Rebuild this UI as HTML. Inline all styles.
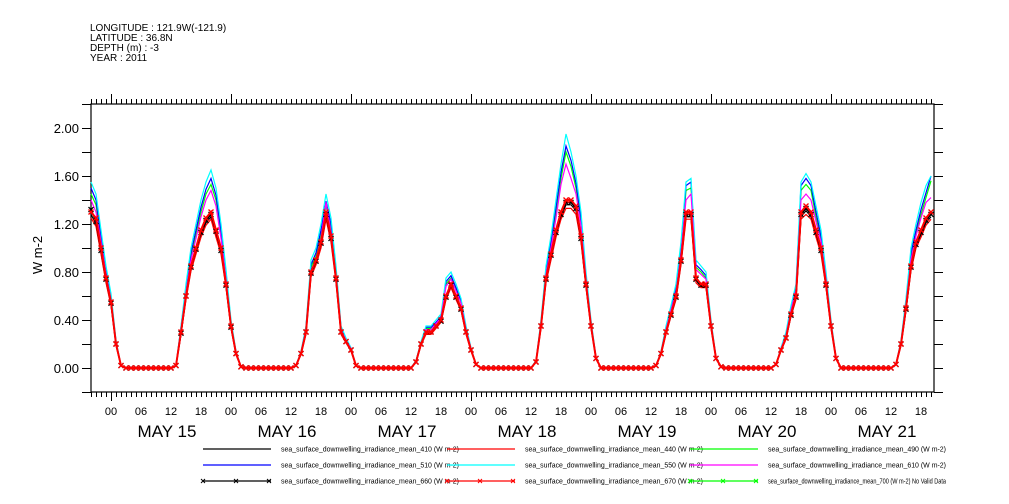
<!DOCTYPE html>
<html><head><meta charset="utf-8"><style>
html,body{margin:0;padding:0;background:#fff;}
svg{display:block;font-family:"Liberation Sans",sans-serif;}
</style></head><body>
<svg id="chart" width="1009" height="504" viewBox="0 0 1009 504" xmlns="http://www.w3.org/2000/svg">
<g font-size="10" fill="#000">
<text x="90" y="31">LONGITUDE : 121.9W(-121.9)</text>
<text x="90" y="41">LATITUDE : 36.8N</text>
<text x="90" y="51">DEPTH (m) : -3</text>
<text x="90" y="61">YEAR : 2011</text>
</g>
<text transform="translate(42,255) rotate(-90)" text-anchor="middle" font-size="13">W m-2</text>
<g id="axes"></g>
<g id="series"></g>
<g id="legend"></g>
</svg>
<script>
const startHourOffset = -4; // first point is May 14 20:00
const dayLabels = ["MAY 15","MAY 16","MAY 17","MAY 18","MAY 19","MAY 20","MAY 21"];
const hourLabels = ["00","06","12","18"];
const yTicks = [0,0.4,0.8,1.2,1.6,2.0];
const yTickLabels = ["0.00","0.40","0.80","1.20","1.60","2.00"];

const red670 = [1.30,1.25,1.00,0.75,
0.55,0.20,0.02,0,0,0,0,0,0,0,0,0,0,0.02,0.30,0.60,0.85,1.00,1.15,1.25,1.30,1.15,1.00,0.70,
0.35,0.12,0.01,0,0,0,0,0,0,0,0,0,0,0.02,0.12,0.30,0.80,0.90,1.05,1.30,1.10,0.75,0.30,0.22,
0.15,0.02,0,0,0,0,0,0,0,0,0,0,0,0.05,0.20,0.30,0.30,0.35,0.40,0.60,0.70,0.60,0.50,0.30,
0.15,0.03,0,0,0,0,0,0,0,0,0,0,0,0.05,0.35,0.75,0.95,1.15,1.30,1.40,1.40,1.35,1.10,0.70,
0.35,0.08,0,0,0,0,0,0,0,0,0,0,0,0.02,0.12,0.30,0.45,0.60,0.90,1.30,1.30,0.75,0.70,0.70,
0.35,0.08,0.01,0,0,0,0,0,0,0,0,0,0,0.03,0.15,0.25,0.45,0.60,1.30,1.35,1.30,1.15,1.00,0.70,
0.35,0.08,0,0,0,0,0,0,0,0,0,0,0,0.03,0.20,0.50,0.85,1.05,1.15,1.25,1.30];
const black660 = [1.32,1.22,0.98,0.74,
0.54,0.20,0.02,0,0,0,0,0,0,0,0,0,0,0.02,0.29,0.60,0.84,0.99,1.13,1.23,1.28,1.14,0.98,0.69,
0.34,0.12,0.01,0,0,0,0,0,0,0,0,0,0,0.02,0.12,0.30,0.79,0.89,1.04,1.28,1.08,0.74,0.30,0.22,
0.15,0.02,0,0,0,0,0,0,0,0,0,0,0,0.05,0.20,0.30,0.30,0.35,0.39,0.59,0.69,0.59,0.49,0.30,
0.15,0.03,0,0,0,0,0,0,0,0,0,0,0,0.05,0.35,0.74,0.94,1.13,1.28,1.38,1.38,1.33,1.08,0.69,
0.35,0.08,0,0,0,0,0,0,0,0,0,0,0,0.02,0.12,0.30,0.44,0.59,0.89,1.28,1.28,0.74,0.69,0.69,
0.35,0.08,0.01,0,0,0,0,0,0,0,0,0,0,0.03,0.15,0.25,0.44,0.59,1.28,1.33,1.28,1.13,0.98,0.69,
0.35,0.08,0,0,0,0,0,0,0,0,0,0,0,0.03,0.20,0.49,0.84,1.03,1.13,1.23,1.28];
const cyan550 = [1.55,1.45,1.15,0.85,
0.62,0.23,0.02,0,0,0,0,0,0,0,0,0,0,0.02,0.35,0.70,1.00,1.20,1.40,1.55,1.65,1.50,1.20,0.82,
0.40,0.14,0.01,0,0,0,0,0,0,0,0,0,0,0.02,0.14,0.35,0.90,1.00,1.20,1.45,1.25,0.85,0.35,0.25,
0.17,0.02,0,0,0,0,0,0,0,0,0,0,0,0.06,0.22,0.35,0.35,0.40,0.45,0.75,0.80,0.70,0.58,0.35,
0.17,0.03,0,0,0,0,0,0,0,0,0,0,0,0.06,0.40,0.85,1.10,1.40,1.70,1.95,1.80,1.60,1.30,0.80,
0.40,0.09,0,0,0,0,0,0,0,0,0,0,0,0.02,0.14,0.35,0.52,0.70,1.05,1.55,1.58,0.90,0.85,0.80,
0.40,0.09,0.01,0,0,0,0,0,0,0,0,0,0,0.03,0.17,0.30,0.52,0.70,1.55,1.62,1.55,1.35,1.15,0.80,
0.40,0.09,0,0,0,0,0,0,0,0,0,0,0,0.03,0.23,0.58,1.00,1.20,1.38,1.52,1.60];
const blue510 = [1.50,1.40,1.10,0.82,
0.60,0.22,0.02,0,0,0,0,0,0,0,0,0,0,0.02,0.34,0.67,0.96,1.15,1.34,1.49,1.58,1.44,1.15,0.79,
0.38,0.13,0.01,0,0,0,0,0,0,0,0,0,0,0.02,0.13,0.34,0.86,0.96,1.15,1.39,1.20,0.82,0.34,0.24,
0.16,0.02,0,0,0,0,0,0,0,0,0,0,0,0.06,0.21,0.34,0.34,0.38,0.43,0.72,0.77,0.67,0.56,0.34,
0.16,0.03,0,0,0,0,0,0,0,0,0,0,0,0.06,0.38,0.82,1.06,1.34,1.63,1.85,1.73,1.54,1.25,0.77,
0.38,0.09,0,0,0,0,0,0,0,0,0,0,0,0.02,0.13,0.34,0.50,0.67,1.01,1.52,1.55,0.86,0.82,0.77,
0.38,0.09,0.01,0,0,0,0,0,0,0,0,0,0,0.03,0.16,0.29,0.50,0.67,1.52,1.58,1.52,1.30,1.10,0.77,
0.38,0.09,0,0,0,0,0,0,0,0,0,0,0,0.03,0.22,0.56,0.96,1.15,1.32,1.46,1.60];
const green490 = [1.45,1.36,1.07,0.80,
0.58,0.21,0.02,0,0,0,0,0,0,0,0,0,0,0.02,0.33,0.65,0.93,1.12,1.30,1.45,1.53,1.40,1.12,0.77,
0.37,0.13,0.01,0,0,0,0,0,0,0,0,0,0,0.02,0.13,0.33,0.84,0.93,1.12,1.35,1.16,0.80,0.33,0.23,
0.16,0.02,0,0,0,0,0,0,0,0,0,0,0,0.06,0.20,0.33,0.33,0.37,0.42,0.70,0.75,0.65,0.54,0.33,
0.16,0.03,0,0,0,0,0,0,0,0,0,0,0,0.06,0.37,0.80,1.03,1.30,1.58,1.80,1.68,1.50,1.21,0.75,
0.37,0.08,0,0,0,0,0,0,0,0,0,0,0,0.02,0.13,0.33,0.49,0.65,0.98,1.48,1.50,0.84,0.80,0.75,
0.37,0.08,0.01,0,0,0,0,0,0,0,0,0,0,0.03,0.16,0.28,0.49,0.65,1.48,1.53,1.48,1.26,1.07,0.75,
0.37,0.08,0,0,0,0,0,0,0,0,0,0,0,0.03,0.21,0.54,0.93,1.12,1.28,1.42,1.56];
const magenta610 = [1.40,1.30,1.05,0.78,
0.57,0.21,0.02,0,0,0,0,0,0,0,0,0,0,0.02,0.32,0.63,0.90,1.08,1.26,1.40,1.48,1.35,1.08,0.74,
0.36,0.13,0.01,0,0,0,0,0,0,0,0,0,0,0.02,0.13,0.32,0.81,0.90,1.08,1.38,1.13,0.77,0.32,0.23,
0.16,0.02,0,0,0,0,0,0,0,0,0,0,0,0.05,0.20,0.32,0.32,0.37,0.42,0.68,0.74,0.64,0.54,0.32,
0.16,0.03,0,0,0,0,0,0,0,0,0,0,0,0.05,0.37,0.78,1.00,1.25,1.53,1.70,1.58,1.45,1.18,0.74,
0.37,0.08,0,0,0,0,0,0,0,0,0,0,0,0.02,0.13,0.32,0.48,0.63,0.95,1.40,1.45,0.82,0.78,0.74,
0.37,0.08,0.01,0,0,0,0,0,0,0,0,0,0,0.03,0.16,0.27,0.48,0.65,1.40,1.45,1.40,1.22,1.05,0.74,
0.37,0.08,0,0,0,0,0,0,0,0,0,0,0,0.03,0.21,0.53,0.90,1.10,1.25,1.38,1.42];
const black410 = [1.28,1.20,0.96,0.72,
0.53,0.19,0.02,0,0,0,0,0,0,0,0,0,0,0.02,0.28,0.58,0.82,0.97,1.11,1.21,1.26,1.11,0.97,0.68,
0.34,0.12,0.01,0,0,0,0,0,0,0,0,0,0,0.02,0.12,0.29,0.78,0.87,1.02,1.26,1.07,0.73,0.29,0.21,
0.15,0.02,0,0,0,0,0,0,0,0,0,0,0,0.05,0.19,0.29,0.29,0.34,0.39,0.58,0.68,0.58,0.49,0.29,
0.15,0.03,0,0,0,0,0,0,0,0,0,0,0,0.05,0.34,0.73,0.92,1.11,1.26,1.36,1.36,1.31,1.07,0.68,
0.34,0.08,0,0,0,0,0,0,0,0,0,0,0,0.02,0.12,0.29,0.44,0.58,0.87,1.26,1.26,0.73,0.68,0.68,
0.34,0.08,0.01,0,0,0,0,0,0,0,0,0,0,0.03,0.15,0.24,0.44,0.58,1.26,1.31,1.26,1.11,0.97,0.68,
0.34,0.08,0,0,0,0,0,0,0,0,0,0,0,0.03,0.19,0.48,0.82,1.02,1.11,1.21,1.26];
const red440 = [1.25,1.18,0.95,0.71,
0.52,0.19,0.02,0,0,0,0,0,0,0,0,0,0,0.02,0.28,0.57,0.81,0.95,1.09,1.19,1.24,1.09,0.95,0.67,
0.33,0.11,0.01,0,0,0,0,0,0,0,0,0,0,0.02,0.11,0.28,0.76,0.86,1.00,1.24,1.05,0.71,0.28,0.21,
0.14,0.02,0,0,0,0,0,0,0,0,0,0,0,0.05,0.19,0.28,0.28,0.33,0.38,0.57,0.67,0.57,0.48,0.28,
0.14,0.03,0,0,0,0,0,0,0,0,0,0,0,0.05,0.33,0.71,0.90,1.09,1.24,1.33,1.33,1.28,1.05,0.67,
0.33,0.08,0,0,0,0,0,0,0,0,0,0,0,0.02,0.11,0.28,0.43,0.57,0.86,1.24,1.24,0.71,0.67,0.67,
0.33,0.08,0.01,0,0,0,0,0,0,0,0,0,0,0.03,0.14,0.24,0.43,0.57,1.24,1.28,1.24,1.09,0.95,0.67,
0.33,0.08,0,0,0,0,0,0,0,0,0,0,0,0.03,0.19,0.48,0.81,1.00,1.09,1.19,1.24];

const NS="http://www.w3.org/2000/svg";
const L=91,R=934,T=104,B=392;
const x0=111; // May 15 00:00
const pxPerHour=5;
function xScale(h){return x0+h*pxPerHour;}
function yScale(v){return 368 - v*120;}
function mk(tag,attrs,parent){const e=document.createElementNS(NS,tag);for(const k in attrs)e.setAttribute(k,attrs[k]);parent.appendChild(e);return e;}

const axes=document.getElementById('axes');
const frame=mk('rect',{x:L,y:T,width:R-L,height:B-T,fill:'none',stroke:'#000','stroke-width':1.2},axes);



for(let v=-0.2;v<=2.21;v+=0.2){
  const y=Math.round(yScale(v))+0.5;
  const t1=mk('line',{x1:L-9,x2:L,y1:y,y2:y,stroke:'#000'},axes);
  
  
  const t2=mk('line',{x1:R,x2:R+9,y1:y,y2:y,stroke:'#000'},axes);
  
  
}
yTicks.forEach((v,i)=>{
  const t=mk('text',{x:L-12,y:yScale(v)+5,'text-anchor':'end','font-size':13},axes);
  t.textContent=yTickLabels[i];
  
  
});
for(let h=-4;h<=165;h++){
  const x=xScale(h);
  if(x<L||x>R)continue;
  const major=((h%24)+24)%24===0;
  const xx=Math.round(x)+0.5;
  const b=mk('line',{x1:xx,x2:xx,y1:B,y2:B+(major?9:5),stroke:'#000'},axes);
  
  
  const t=mk('line',{x1:xx,x2:xx,y1:T-(major?10:5),y2:T,stroke:'#000'},axes);
  
  
  if(((h%6)+6)%6===0 && h>=0){
    const lab=mk('text',{x:x,y:415,'text-anchor':'middle','font-size':11},axes);
    lab.textContent=hourLabels[(h%24)/6];
    
    
  }
}
dayLabels.forEach((d,i)=>{
  const t=mk('text',{x:xScale(i*24+12)-4,y:437,'text-anchor':'middle','font-size':17},axes);
  t.textContent=d;
  
  
});

const ser=document.getElementById('series');
const seriesList=[
 {name:'series-410',data:black410,color:'#000',marker:false,w:1.2},
 {name:'series-440',data:red440,color:'#ff0000',marker:false,w:1.2},
 {name:'series-490',data:green490,color:'#00ff00',marker:false,w:1.2},
 {name:'series-510',data:blue510,color:'#0000ff',marker:false,w:1.2},
 {name:'series-550',data:cyan550,color:'#00ffff',marker:false,w:1.2},
 {name:'series-610',data:magenta610,color:'#ff00ff',marker:false,w:1.2},
 {name:'series-660',data:black660,color:'#000',marker:true,w:1.4},
 {name:'series-670',data:red670,color:'#ff0000',marker:true,w:2}
];
seriesList.forEach(s=>{
  const g=mk('g',{},ser);
  
  
  const pts=s.data.map((v,i)=>xScale(i+startHourOffset).toFixed(1)+','+yScale(v).toFixed(1)).join(' ');
  const pl=mk('polyline',{points:pts,fill:'none',stroke:s.color,'stroke-width':s.w},g);
  
  
  if(s.marker){
    s.data.forEach((v,i)=>{
      const cx=xScale(i+startHourOffset),cy=yScale(v);
      const p=mk('path',{d:`M${cx-2.5},${cy-2.5}L${cx+2.5},${cy+2.5}M${cx-2.5},${cy+2.5}L${cx+2.5},${cy-2.5}`,stroke:s.color,'stroke-width':1.3},g);
      
      
    });
  }
});

const leg=document.getElementById('legend');
const legendItems=[
 ['sea_surface_downwelling_irradiance_mean_410 (W m-2)','#000',false,0,0],
 ['sea_surface_downwelling_irradiance_mean_440 (W m-2)','#ff0000',false,1,0],
 ['sea_surface_downwelling_irradiance_mean_490 (W m-2)','#00ff00',false,2,0],
 ['sea_surface_downwelling_irradiance_mean_510 (W m-2)','#0000ff',false,0,1],
 ['sea_surface_downwelling_irradiance_mean_550 (W m-2)','#00ffff',false,1,1],
 ['sea_surface_downwelling_irradiance_mean_610 (W m-2)','#ff00ff',false,2,1],
 ['sea_surface_downwelling_irradiance_mean_660 (W m-2)','#000',true,0,2],
 ['sea_surface_downwelling_irradiance_mean_670 (W m-2)','#ff0000',true,1,2],
 ['sea_surface_downwelling_irradiance_mean_700 (W m-2) No Valid Data','#00ff00',true,2,2]
];
const colLine=[203,447,690],colText=[281,525,768],rowY=[449,465,481];
legendItems.forEach(it=>{
  const g=mk('g',{},leg);
  
  
  const x1=colLine[it[3]],y=rowY[it[4]];
  mk('line',{x1:x1,x2:x1+68,y1:y,y2:y,stroke:it[1],'stroke-width':1.2},g);
  if(it[2]){[0,33,66].forEach(d=>{mk('path',{d:`M${x1+d-2},${y-2}L${x1+d+2},${y+2}M${x1+d-2},${y+2}L${x1+d+2},${y-2}`,stroke:it[1]},g);});}
  const t=mk('text',{x:colText[it[3]],y:y+2.5,'font-size':7,textLength:178,lengthAdjust:'spacingAndGlyphs'},g);
  t.textContent=it[0];
});
</script>
</body></html>
